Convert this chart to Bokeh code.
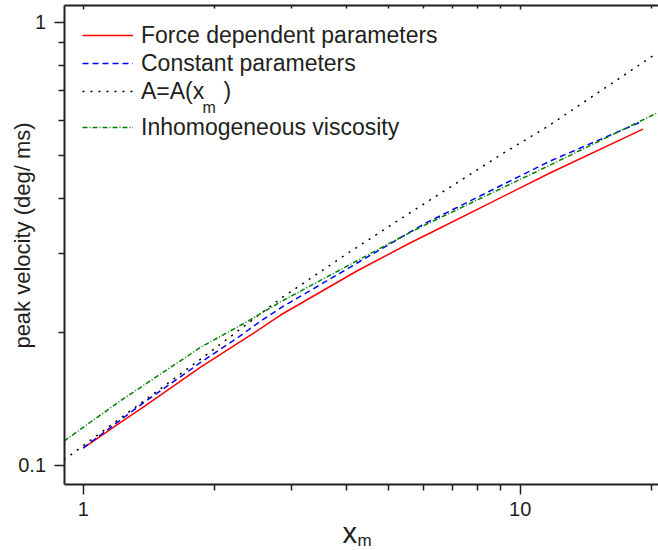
import math
from bokeh.plotting import figure
from bokeh.models import (Range1d, FixedTicker, CustomJSTickFormatter, LogAxis,
                          Legend, LegendItem, Label)
from bokeh.embed import file_html
from bokeh.resources import INLINE

# ---- data ----
force_x = [1.0, 1.22, 1.38, 1.86, 2.42, 2.83, 4.24, 5.61, 6.24, 11.7, 19.1]
force_y = [0.1095, 0.1252, 0.136, 0.167, 0.197, 0.2185, 0.275, 0.318, 0.335, 0.457, 0.574]

const_x = [1.0, 1.38, 1.86, 2.27, 2.55, 2.88, 5.14, 6.07, 11.7, 19.0]
const_y = [0.1095, 0.139, 0.171, 0.195, 0.212, 0.229, 0.320, 0.352, 0.486, 0.597]

ax_x = [0.9038, 1.89, 2.83, 4.09, 5.56, 9.02, 11.5, 20.5]
ax_y = [0.103, 0.176, 0.238, 0.304, 0.370, 0.502, 0.580, 0.850]

visc_x = [0.9038, 1.22, 1.86, 2.37, 2.83, 5.14, 5.92, 11.7, 20.5]
visc_y = [0.1135, 0.1402, 0.185, 0.211, 0.234, 0.321, 0.345, 0.476, 0.623]

x_ticks = [1, 10]
x_minor = [2, 3, 4, 5, 6, 7, 8, 9, 20]
y_ticks = [0.1, 1]
y_minor = [0.2, 0.3, 0.4, 0.5, 0.6, 0.7, 0.8, 0.9]

# plotting-area limits (where the axes sit)
X_LO, X_HI = 0.9038, 20.73
Y_LO, Y_HI = 0.09037, 1.0906

FONT = "Liberation Sans"
DARK = "#231f20"

p = figure(width=658, height=550, x_axis_type="log", y_axis_type="log",
           x_axis_location=None, y_axis_location=None,
           x_range=Range1d(0.6467, 20.73), y_range=Range1d(0.06430, 1.1194),
           output_backend="svg", toolbar_location=None,
           min_border_left=0, min_border_right=0, min_border_top=0,
           min_border_bottom=0)
p.outline_line_color = None
p.xgrid.visible = False
p.ygrid.visible = False
p.background_fill_color = "white"
p.border_fill_color = "white"

fmt = CustomJSTickFormatter(code="return String(tick)")
blank = CustomJSTickFormatter(code="return ''")


def style(ax, size_out_major, size_out_minor, size_in_major=0, size_in_minor=0):
    ax.axis_line_width = 2
    ax.axis_line_color = DARK
    ax.major_tick_line_color = DARK
    ax.minor_tick_line_color = DARK
    ax.major_tick_line_width = 1.5
    ax.minor_tick_line_width = 1.5
    ax.major_tick_in = size_in_major
    ax.minor_tick_in = size_in_minor
    ax.major_tick_out = size_out_major
    ax.minor_tick_out = size_out_minor
    ax.major_label_text_font = FONT
    ax.major_label_text_font_size = "20px"
    ax.major_label_text_color = DARK


xaxis = LogAxis(ticker=FixedTicker(ticks=x_ticks, minor_ticks=x_minor),
                formatter=fmt, fixed_location=Y_LO, bounds=(X_LO, X_HI),
                major_label_standoff=7)
style(xaxis, 10, 6)
p.add_layout(xaxis, "below")

yaxis = LogAxis(ticker=FixedTicker(ticks=y_ticks, minor_ticks=y_minor),
                formatter=fmt, fixed_location=X_LO, bounds=(Y_LO, Y_HI),
                major_label_standoff=8)
style(yaxis, 10, 6)
p.add_layout(yaxis, "left")

top = LogAxis(ticker=FixedTicker(ticks=x_ticks, minor_ticks=x_minor),
              formatter=blank, fixed_location=Y_HI, bounds=(X_LO, X_HI),
              major_label_standoff=0)
style(top, 0, 0, 4, 3)
p.add_layout(top, "above")

r_force = p.line(force_x, force_y, line_color="#ff0000", line_width=1.5)
r_const = p.line(const_x, const_y, line_color="#0000ff", line_width=1.5,
                 line_dash="6 4")
r_ax = p.line(ax_x, ax_y, line_color="#000000", line_width=1.5,
              line_dash="2 6")
r_visc = p.line(visc_x, visc_y, line_color="#008000", line_width=1.5,
                line_dash="5 2 1 2")


def make_legend(items, loc):
    return Legend(items=items, location=loc, orientation="vertical",
                  padding=0, margin=0, spacing=0, border_line_color=None,
                  background_fill_alpha=0, glyph_width=51, glyph_height=28,
                  label_standoff=8, label_text_font=FONT,
                  label_text_font_size="23px", label_text_color=DARK,
                  label_height=28)


lg1 = make_legend([LegendItem(label="Force dependent parameters", renderers=[r_force]),
                   LegendItem(label="Constant parameters", renderers=[r_const]),
                   LegendItem(label="A=A(x   )", renderers=[r_ax])], (82, 445))
lg2 = make_legend([LegendItem(label="Inhomogeneous viscosity", renderers=[r_visc])],
                  (82, 409))
p.add_layout(lg1)
p.add_layout(lg2)

# subscript m in the legend entry
p.add_layout(Label(x=202, y=443, x_units="screen", y_units="screen", text="m",
                   text_font=FONT, text_font_size="16px", text_color=DARK,
                   text_baseline="alphabetic", text_align="left"))

# y axis label
p.add_layout(Label(x=22, y=315, x_units="screen", y_units="screen",
                   text="peak velocity (deg/ ms)", angle=math.pi / 2,
                   text_font=FONT, text_font_size="22px", text_color=DARK,
                   text_align="center", text_baseline="middle"))

# x axis label: x with subscript m
p.add_layout(Label(x=342, y=18, x_units="screen", y_units="screen", text="x",
                   text_font=FONT, text_font_size="29px", text_color=DARK,
                   text_baseline="alphabetic", text_align="left"))
p.add_layout(Label(x=357, y=10, x_units="screen", y_units="screen", text="m",
                   text_font=FONT, text_font_size="17px", text_color=DARK,
                   text_baseline="alphabetic", text_align="left"))

open("out.html", "w").write(file_html(p, INLINE))
